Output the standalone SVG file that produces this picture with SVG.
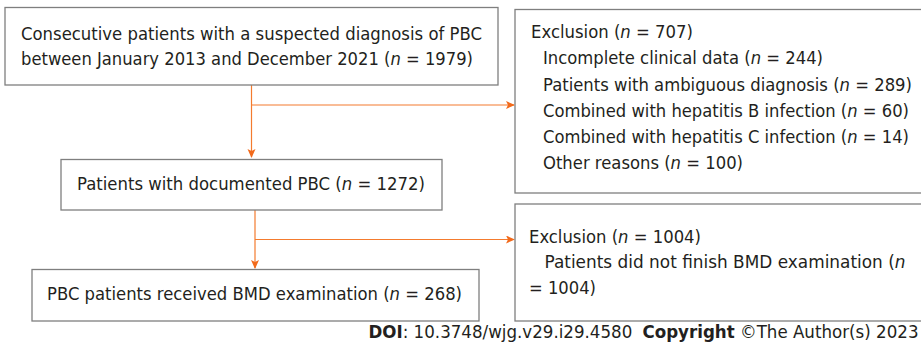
<svg xmlns="http://www.w3.org/2000/svg" width="921" height="347" viewBox="0 0 921 347">
<defs>
<style>
.box{fill:#fff;stroke:#7f7f7f;stroke-width:1.3}
.t{font-family:"DejaVu Sans",Tahoma,sans-serif;font-size:17px;fill:#231f20}
.i{font-style:italic}
.c{fill:none;stroke:#f47b2e;stroke-width:1.2}
.b{font-weight:bold}
</style>
<marker id="ah" markerWidth="10" markerHeight="10" refX="8" refY="4" orient="auto" markerUnits="userSpaceOnUse">
<path d="M0,0 L9,4 L0,8 L2,4 z" fill="#f26a1b"/>
</marker>
</defs>
<rect width="921" height="347" fill="#fff"/>
<g id="connectors">
<path class="c" d="M251.5,85 V157" marker-end="url(#ah)"/>
<path class="c" d="M251.5,105 H514" marker-end="url(#ah)"/>
<path class="c" d="M255,210 V268" marker-end="url(#ah)"/>
<path class="c" d="M255,239.5 H514" marker-end="url(#ah)"/>
</g>
<g id="n1">
<rect class="box" x="5" y="7.5" width="493" height="77.5"/>
<text class="t" x="21" y="39.5" textLength="461" lengthAdjust="spacingAndGlyphs">Consecutive patients with a suspected diagnosis of PBC</text>
<text class="t" x="21" y="64.5" textLength="452" lengthAdjust="spacingAndGlyphs">between January 2013 and December 2021 (<tspan class="i">n</tspan> = 1979)</text>
</g>
<g id="n2">
<rect class="box" x="515" y="9.5" width="420" height="183.5"/>
<text class="t" x="531" y="37.7" textLength="162" lengthAdjust="spacingAndGlyphs">Exclusion (<tspan class="i">n</tspan> = 707)</text>
<text class="t" x="543" y="64.3" textLength="280" lengthAdjust="spacingAndGlyphs">Incomplete clinical data (<tspan class="i">n</tspan> = 244)</text>
<text class="t" x="543" y="90.5" textLength="369" lengthAdjust="spacingAndGlyphs">Patients with ambiguous diagnosis (<tspan class="i">n</tspan> = 289)</text>
<text class="t" x="543" y="116.7" textLength="366" lengthAdjust="spacingAndGlyphs">Combined with hepatitis B infection (<tspan class="i">n</tspan> = 60)</text>
<text class="t" x="543" y="142.7" textLength="366" lengthAdjust="spacingAndGlyphs">Combined with hepatitis C infection (<tspan class="i">n</tspan> = 14)</text>
<text class="t" x="543" y="169" textLength="200" lengthAdjust="spacingAndGlyphs">Other reasons (<tspan class="i">n</tspan> = 100)</text>
</g>
<g id="n3">
<rect class="box" x="61" y="159.5" width="381" height="50.5"/>
<text class="t" x="77" y="190" textLength="348" lengthAdjust="spacingAndGlyphs">Patients with documented PBC (<tspan class="i">n</tspan> = 1272)</text>
</g>
<g id="n4">
<rect class="box" x="32" y="269.5" width="447" height="51.5"/>
<text class="t" x="47" y="300" textLength="415" lengthAdjust="spacingAndGlyphs">PBC patients received BMD examination (<tspan class="i">n</tspan> = 268)</text>
</g>
<g id="n5">
<rect class="box" x="515" y="204" width="420" height="117"/>
<text class="t" x="529" y="242.7" textLength="172" lengthAdjust="spacingAndGlyphs">Exclusion (<tspan class="i">n</tspan> = 1004)</text>
<text class="t" x="544.5" y="268.3" textLength="361" lengthAdjust="spacingAndGlyphs">Patients did not finish BMD examination (<tspan class="i">n</tspan></text>
<text class="t" x="529" y="294.3" textLength="67" lengthAdjust="spacingAndGlyphs">= 1004)</text>
</g>
<text class="t" x="368.5" y="338" textLength="550" lengthAdjust="spacingAndGlyphs"><tspan class="b">DOI</tspan>: 10.3748/wjg.v29.i29.4580 <tspan class="b" dx="5">Copyright</tspan> ©The Author(s) 2023</text>
</svg>
